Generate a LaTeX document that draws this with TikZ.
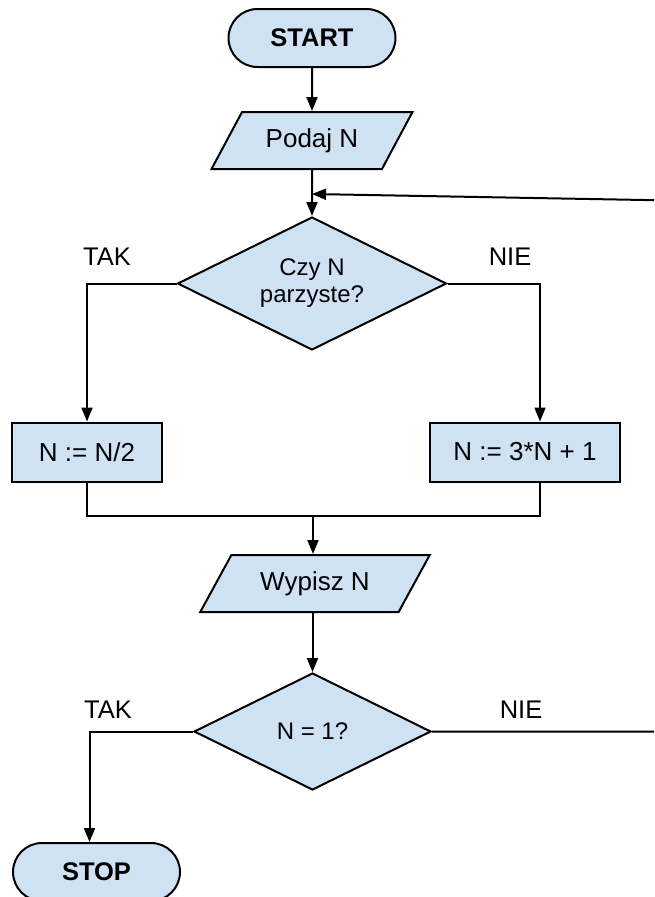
\documentclass[tikz,border=0pt]{standalone}
\usepackage{fontspec}
\setmainfont{Liberation Sans}
\usepackage{xcolor}
\usepackage{tikz}
\usetikzlibrary{shapes.geometric, arrows.meta, positioning, calc}
\definecolor{flowblue}{HTML}{CFE2F3}
\tikzstyle{terminal} = [rectangle, rounded corners=29pt, minimum width=167pt, minimum height=58pt, text centered, draw=black, fill=flowblue, font=\fontsize{25.5}{30}\selectfont\bfseries]
\tikzstyle{io} = [trapezium, trapezium left angle=55, trapezium right angle=125, trapezium stretches, minimum height=57pt, text centered, draw=black, fill=flowblue, font=\fontsize{26}{30}\selectfont]
\tikzstyle{process} = [rectangle, minimum height=59pt, text centered, draw=black, fill=flowblue, font=\fontsize{26}{30}\selectfont]
\tikzstyle{decision} = [diamond, aspect=2, inner sep=0pt, text centered, align=center, draw=black, fill=flowblue, font=\fontsize{24}{27}\selectfont]
\tikzstyle{answer} = [anchor=base, font=\fontsize{25.5}{30}\selectfont]
\tikzstyle{arrow} = [line width=2pt, -{Triangle[length=14pt, width=11pt]}]
\tikzstyle{line} = [line width=2pt]

\begin{document}
\begin{tikzpicture}[x=1pt, y=-1pt, line width=2pt]
    \useasboundingbox (0,0) rectangle (654,897);
    \clip (0,0) rectangle (654,897);
    % Start and input
    \node (start) [terminal] at (312,38) {START};
    \node (podaj) [io, minimum width=201pt, below=43pt of start] {Podaj N};
    \node (parity) [decision, minimum width=269pt, minimum height=133pt, below=46pt of podaj] {Czy N\\parzyste?};

    % Branches
    \node (half) [process, minimum width=150pt] at (87,452) {N := N/2};
    \node (triple) [process, minimum width=190pt] at (525,452) {N := 3*N + 1};
    \coordinate (merge) at (313,516);

    % Output and test
    \node (wypisz) [io, minimum width=230pt] at (315,583.5) {Wypisz N};
    \node (isone) [decision, minimum width=237pt, minimum height=117pt] at (312.5,731.5) {N = 1?};
    \node (stop) [terminal] at (96.5,872) {STOP};

    % Labels
    \node (tak1) [answer] at (107,265) {TAK};
    \node (nie1) [answer] at (510,265) {NIE};
    \node (tak2) [answer] at (108,718) {TAK};
    \node (nie2) [answer] at (521,718) {NIE};

    % Loop back
    \coordinate (loopbot) at (700,731.5);
    \coordinate (looptop) at (700,201);
    \coordinate (join) at (312,194);

    % Arrows
    \draw [arrow] (start) -- (podaj);
    \draw [arrow] (podaj) -- (parity);
    \draw [arrow] (parity.west) -| (half.north);
    \draw [arrow] (parity.east) -| ([xshift=15pt]triple.north);
    \draw [line] (half.south) |- (merge);
    \draw [line] ([xshift=15pt]triple.south) |- (merge);
    \draw [arrow] (merge) -- (merge |- wypisz.north);
    \draw [arrow] (wypisz.south -| isone.north) -- (isone.north);
    \draw [arrow] (isone.west) -| ([xshift=-7pt]stop.north);
    \draw [arrow] (isone.east) -- (loopbot) -- (looptop) -- (join);
\end{tikzpicture}
\end{document}
